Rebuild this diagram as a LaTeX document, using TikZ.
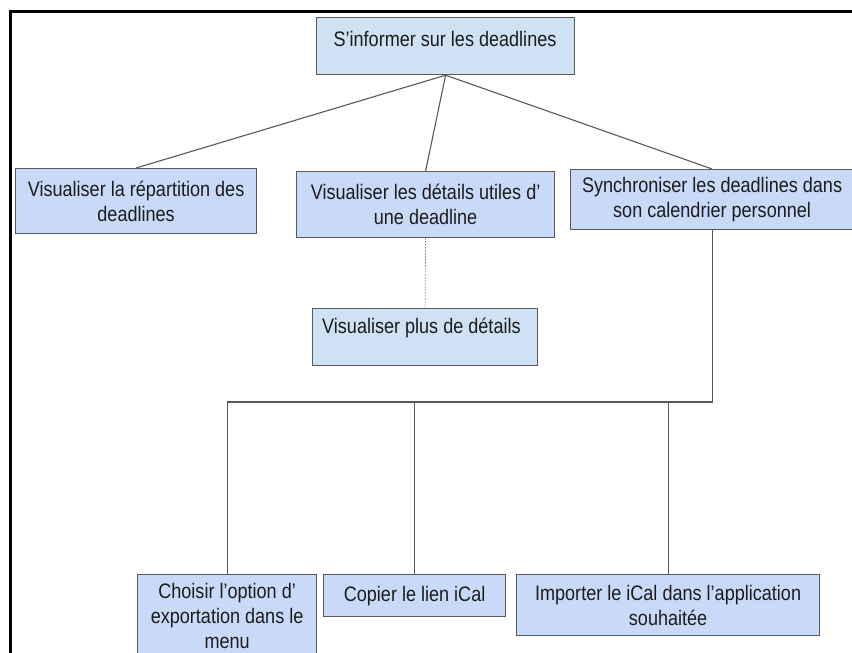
\documentclass[tikz,border=0pt]{standalone}
\usepackage{fontspec}
\setmainfont[FakeStretch=0.86]{Liberation Sans}
\usetikzlibrary{calc}
\definecolor{boxA}{HTML}{C9DAF8}
\definecolor{boxB}{HTML}{CFE2F3}
\definecolor{edgec}{HTML}{595959}
\definecolor{txt}{HTML}{1C1C1C}
\begin{document}
\begin{tikzpicture}[x=1pt,y=-1pt,
  box/.style={draw=edgec, line width=1.2pt, fill=boxA, inner sep=0pt,
    anchor=north west, align=center, text=txt,
    font=\fontsize{21}{25}\selectfont},
  boxlight/.style={box, fill=boxB},
  lbl/.style={inner sep=0pt, text=txt, font=\fontsize{21}{25}\selectfont},
  conn/.style={draw=edgec, line width=1.1pt},
  dots/.style={draw=gray, line width=0.7pt, dash pattern=on 1.5pt off 1.5pt},
  frame/.style={draw=black, line width=2.4pt}]
\useasboundingbox (0,0) rectangle (852,653);
\clip (0,0) rectangle (852,653);
\fill[white] (0,0) rectangle (852,653);
% frame
\draw[frame] (10.5,660) -- (10.5,11.3) -- (860,11.3);
% boxes
\node[boxlight, minimum width=258pt, minimum height=57pt] (top) at (316,17) {};
\node[lbl, anchor=base] (topT) at (445,46) {S’informer sur les deadlines};
\node[box, minimum width=241pt, minimum height=65pt] (vis) at (15,168)
  {Visualiser la répartition des\\deadlines};
\node[box, minimum width=258pt, minimum height=66pt] (det) at (296,171)
  {Visualiser les détails utiles d’\\une deadline};
\node[box, minimum width=283pt, minimum height=60pt] (sync) at (570,169)
  {Synchroniser les deadlines dans\\son calendrier personnel};
\node[boxlight, minimum width=225pt, minimum height=57pt] (plus) at (312,308) {};
\node[lbl, anchor=base west] (plusT) at (322,333) {Visualiser plus de détails};
\node[box, minimum width=179pt, minimum height=82pt] (c1) at (137,574)
  {Choisir l’option d’\\exportation dans le\\menu};
\node[box, minimum width=182pt, minimum height=42pt] (c2) at (323,574)
  {Copier le lien iCal};
\node[box, minimum width=303pt, minimum height=61pt] (c3) at (516,574)
  {Importer le iCal dans l’application\\souhaitée};
% connectors
\draw[conn] (top.south) -- (vis.north);
\draw[conn] (top.south) -- (det.north);
\draw[conn] (top.south) -- (sync.north);
\draw[dots] (det.south) -- (plus.north);
\coordinate (bus) at ($(c1.north)+(0,-172)$);
\draw[conn] (sync.south) -- (sync.south |- bus) -- (bus) -- (c1.north);
\draw[conn] (c2.north) -- (c2.north |- bus);
\draw[conn] (c3.north) -- (c3.north |- bus);
\end{tikzpicture}
\end{document}
